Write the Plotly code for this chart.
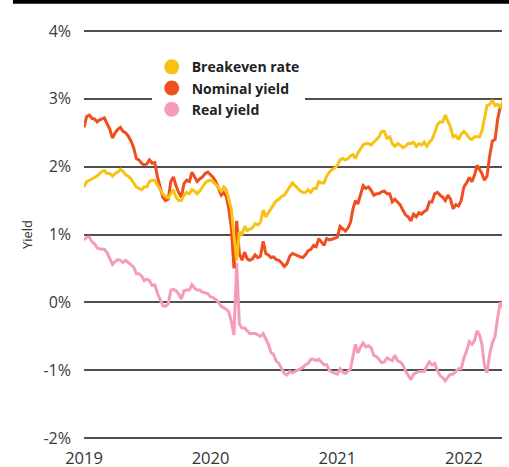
import pandas as pd
import plotly.graph_objects as go

# Four readings per month, January 2019 through April 2022 (percent)
months = pd.date_range("2019-01-01", "2022-04-01", freq="MS")
points_per_month = 4

nominal_yield = [
    # 2019
    2.58, 2.74, 2.76, 2.71,  2.70, 2.66, 2.69, 2.71,  2.72, 2.63, 2.55, 2.42,
    2.50, 2.55, 2.58, 2.52,  2.50, 2.45, 2.38, 2.28,  2.12, 2.10, 2.05, 2.02,
    2.04, 2.10, 2.05, 2.06,  1.85, 1.70, 1.55, 1.50,  1.52, 1.78, 1.85, 1.72,
    1.62, 1.55, 1.75, 1.80,  1.78, 1.92, 1.85, 1.78,  1.82, 1.85, 1.90, 1.92,
    # 2020
    1.88, 1.84, 1.78, 1.68,  1.58, 1.62, 1.56, 1.38,  1.10, 0.50, 1.20, 0.72,
    0.62, 0.74, 0.64, 0.62,  0.64, 0.70, 0.66, 0.68,  0.90, 0.72, 0.70, 0.66,
    0.67, 0.63, 0.62, 0.58,  0.53, 0.57, 0.68, 0.72,  0.70, 0.68, 0.67, 0.66,
    0.70, 0.76, 0.78, 0.84,  0.82, 0.94, 0.88, 0.84,  0.94, 0.92, 0.93, 0.94,
    # 2021
    0.96, 1.12, 1.09, 1.05,  1.10, 1.18, 1.38, 1.50,  1.45, 1.60, 1.72, 1.68,
    1.70, 1.65, 1.58, 1.60,  1.60, 1.63, 1.64, 1.60,  1.60, 1.48, 1.52, 1.48,
    1.44, 1.36, 1.29, 1.26,  1.20, 1.30, 1.26, 1.32,  1.30, 1.34, 1.36, 1.48,
    1.48, 1.60, 1.62, 1.58,  1.55, 1.50, 1.58, 1.52,  1.38, 1.44, 1.42, 1.50,
    # 2022
    1.70, 1.76, 1.84, 1.78,  1.88, 2.02, 1.96, 1.90,  1.80, 1.86, 2.16, 2.38,
    2.40, 2.70, 2.88, 2.88,
]

breakeven_rate = [
    # 2019
    1.70, 1.78, 1.80, 1.82,  1.84, 1.86, 1.90, 1.93,  1.94, 1.90, 1.90, 1.86,
    1.90, 1.92, 1.96, 1.93,  1.88, 1.86, 1.82, 1.76,  1.70, 1.68, 1.66, 1.70,
    1.70, 1.78, 1.80, 1.80,  1.72, 1.66, 1.60, 1.56,  1.54, 1.60, 1.66, 1.55,
    1.50, 1.50, 1.58, 1.62,  1.60, 1.66, 1.64, 1.60,  1.64, 1.70, 1.76, 1.79,
    # 2020
    1.80, 1.77, 1.74, 1.68,  1.64, 1.70, 1.66, 1.52,  1.38, 0.98, 0.62, 1.04,
    1.00, 1.12, 1.06, 1.08,  1.10, 1.16, 1.14, 1.18,  1.36, 1.26, 1.32, 1.40,
    1.44, 1.50, 1.52, 1.56,  1.58, 1.64, 1.70, 1.76,  1.72, 1.68, 1.64, 1.62,
    1.62, 1.66, 1.62, 1.68,  1.68, 1.78, 1.76, 1.76,  1.86, 1.92, 1.96, 1.98,
    # 2021
    2.02, 2.10, 2.12, 2.10,  2.12, 2.16, 2.18, 2.12,  2.20, 2.26, 2.32, 2.34,
    2.34, 2.32, 2.36, 2.40,  2.44, 2.52, 2.52, 2.42,  2.44, 2.34, 2.30, 2.34,
    2.32, 2.28, 2.30, 2.34,  2.34, 2.36, 2.30, 2.34,  2.32, 2.36, 2.30, 2.36,
    2.40, 2.50, 2.62, 2.66,  2.66, 2.76, 2.68, 2.58,  2.44, 2.46, 2.40, 2.48,
    # 2022
    2.52, 2.48, 2.42, 2.40,  2.44, 2.44, 2.44, 2.52,  2.72, 2.90, 2.92, 2.98,
    2.90, 2.92, 2.88, 2.96,
]

real_yield = [
    # 2019
    0.92, 0.96, 0.96, 0.89,  0.86, 0.80, 0.79, 0.78,  0.78, 0.73, 0.65, 0.56,
    0.60, 0.63, 0.62, 0.59,  0.62, 0.59, 0.56, 0.52,  0.42, 0.42, 0.39, 0.32,
    0.34, 0.32, 0.25, 0.26,  0.13, 0.04, -0.05, -0.06,  -0.02, 0.18, 0.19, 0.17,
    0.12, 0.05, 0.17, 0.18,  0.18, 0.26, 0.21, 0.18,  0.18, 0.15, 0.14, 0.13,
    # 2020
    0.08, 0.07, 0.04, 0.00,  -0.06, -0.08, -0.10, -0.14,  -0.28, -0.48, 0.58, -0.32,
    -0.38, -0.38, -0.42, -0.46,  -0.46, -0.46, -0.48, -0.50,  -0.46, -0.54, -0.62, -0.74,
    -0.77, -0.87, -0.90, -0.98,  -1.05, -1.07, -1.02, -1.04,  -1.02, -1.00, -0.97, -0.96,
    -0.92, -0.90, -0.84, -0.84,  -0.86, -0.84, -0.88, -0.92,  -0.92, -1.00, -1.03, -1.04,
    # 2021
    -1.06, -0.98, -1.03, -1.05,  -1.02, -0.98, -0.80, -0.62,  -0.75, -0.66, -0.60, -0.66,
    -0.64, -0.67, -0.78, -0.80,  -0.84, -0.89, -0.88, -0.82,  -0.84, -0.86, -0.78, -0.86,
    -0.88, -0.92, -1.01, -1.08,  -1.14, -1.06, -1.04, -1.02,  -1.02, -1.02, -0.94, -0.88,
    -0.92, -0.90, -1.00, -1.08,  -1.11, -1.16, -1.10, -1.06,  -1.06, -1.02, -0.98, -0.98,
    # 2022
    -0.82, -0.72, -0.58, -0.62,  -0.56, -0.42, -0.48, -0.62,  -0.92, -1.04, -0.76, -0.60,
    -0.50, -0.22, 0.00, -0.08,
]

y_ticks = [-2, -1, 0, 1, 2, 3, 4]
y_tick_labels = ["-2%", "-1%", "0%", "1%", "2%", "3%", "4%"]
x_tick_labels = ["2019", "2020", "2021", "2022"]

# Spread each month's readings evenly across the month
dates = []
for ms in months:
    span = ms.days_in_month / points_per_month
    for k in range(points_per_month):
        dates.append(ms + pd.Timedelta(days=k * span))

series = [
    ("Real yield", real_yield, "#F59DB8"),
    ("Nominal yield", nominal_yield, "#F04E1F"),
    ("Breakeven rate", breakeven_rate, "#F7C313"),
]

fig = go.Figure()
for name, values, color in series:
    fig.add_trace(go.Scatter(
        x=dates, y=values, mode="lines", name=name,
        line=dict(color=color, width=3), showlegend=False,
        hoverinfo="x+y",
    ))

# Legend entries drawn as filled circles
for name, values, color in reversed(series):
    fig.add_trace(go.Scatter(
        x=[None], y=[None], mode="markers", name=name,
        marker=dict(color=color, size=15, symbol="circle"),
    ))

font_family = "Open Sans, Lato, sans-serif"

fig.update_layout(
    width=509, height=467,
    margin=dict(l=84, r=7, t=30, b=28),
    paper_bgcolor="white", plot_bgcolor="white",
    font=dict(family=font_family, color="#333333"),
    showlegend=True,
    legend=dict(
        x=0.162, y=0.948, xanchor="left", yanchor="top",
        bgcolor="white", borderwidth=0,
        font=dict(size=14, color="#222222", weight="bold"),
        itemsizing="trace", tracegroupgap=0,
    ),
    xaxis=dict(
        range=["2019-01-01", "2022-04-21"],
        tickvals=[f"{y}-01-01" for y in x_tick_labels],
        ticktext=x_tick_labels,
        showgrid=False, zeroline=False, showline=False,
        ticks="", tickfont=dict(size=16.5, color="#333333", weight=500),
        ticklabelstandoff=7, automargin=False,
    ),
    yaxis=dict(
        range=[-2.015, 4.015],
        tickvals=y_ticks, ticktext=y_tick_labels,
        showgrid=True, gridcolor="#505050", gridwidth=1.6,
        zeroline=False, showline=False, ticks="",
        tickfont=dict(size=16, color="#3a3a3a"),
        ticklabelstandoff=12,
        title=dict(text="Yield", font=dict(size=13, color="#333333"), standoff=7),
    ),
    shapes=[
        dict(type="rect", xref="paper", yref="paper",
             x0=-0.17, x1=1.02, y0=1.064, y1=1.08,
             fillcolor="black", line=dict(width=0)),
    ],
)

fig.write_html("out.html")
